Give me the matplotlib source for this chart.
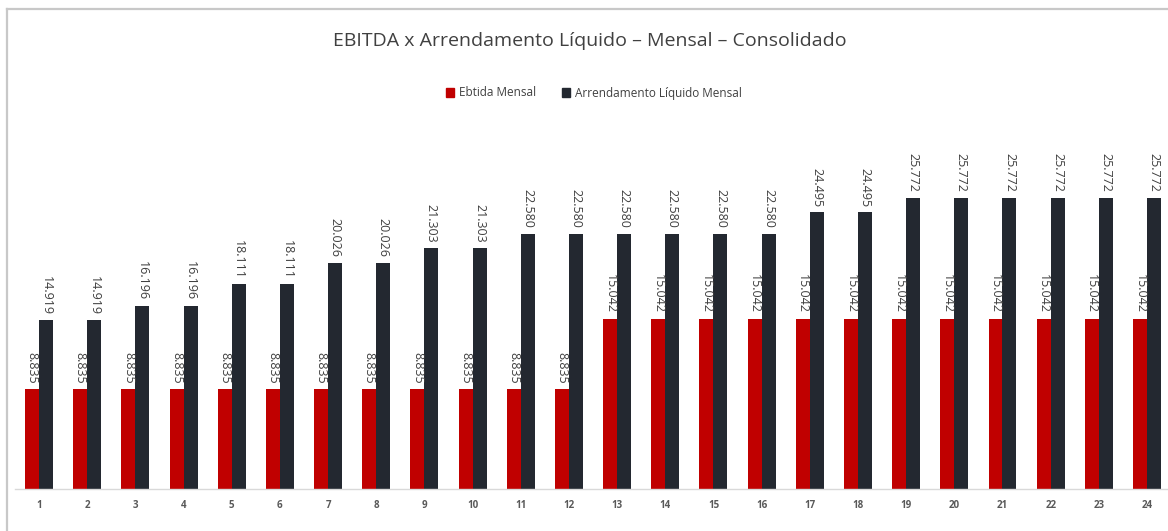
import matplotlib.pyplot as plt
from matplotlib.lines import Line2D
from matplotlib.patches import Patch

# dados do grafico
meses = [str(i) for i in range(1, 25)]
ebitda_mensal = [8835, 8835, 8835, 8835, 8835, 8835, 8835, 8835, 8835, 8835, 8835, 8835,
                 15042, 15042, 15042, 15042, 15042, 15042, 15042, 15042, 15042, 15042, 15042, 15042]
arrendamento_liquido = [14919, 14919, 16196, 16196, 18111, 18111, 20026, 20026, 21303, 21303, 22580, 22580,
                        22580, 22580, 22580, 22580, 24495, 24495, 25772, 25772, 25772, 25772, 25772, 25772]

plt.rcParams['font.family'] = ['Open Sans', 'DejaVu Sans']

W, H = 1168, 531
fig = plt.figure(figsize=(W/100, H/100), dpi=100)

# borda do grafico (so esquerda e topo aparecem)
fig.add_artist(Line2D([7/W, 7/W], [0, 1-9/H], color='#C8C8C8', lw=1.6, transform=fig.transFigure))
fig.add_artist(Line2D([7/W, 1], [1-9/H, 1-9/H], color='#C8C8C8', lw=1.6, transform=fig.transFigure))

ax = fig.add_axes([15/W, 1-489/H, (W-15)/W, (489-150)/H])

x = list(range(1, 25))
w = 0.29
red = '#C00000'
dark = '#232830'
xr = [i - w/2 for i in x]
xb = [i + w/2 for i in x]
ax.bar(xr, ebitda_mensal, width=w, color=red)
ax.bar(xb, arrendamento_liquido, width=w, color=dark)

def fmt(v):
    return f"{v:,}".replace(",", ".")

for xi, v in zip(xr, ebitda_mensal):
    ax.annotate(fmt(v), (xi, v), xytext=(0, 4), textcoords='offset points',
                rotation=270, ha='center', va='bottom', fontsize=9, color='#404040')
for xi, v in zip(xb, arrendamento_liquido):
    ax.annotate(fmt(v), (xi, v), xytext=(0, 4), textcoords='offset points',
                rotation=270, ha='center', va='bottom', fontsize=9, color='#404040')

ax.set_xlim(0.5, 0.5 + (W-15)/48.17)
ax.set_ylim(0, 30000)
ax.set_xticks(x)
ax.set_xticklabels(meses, fontsize=7, fontweight='bold', color='#595959')
ax.set_yticks([])
ax.tick_params(axis='x', length=0, pad=8)
for s in ['top', 'right', 'left']:
    ax.spines[s].set_visible(False)
ax.spines['bottom'].set_color('#D9D9D9')
ax.spines['bottom'].set_linewidth(1)

fig.text(590/W, 1-41/H, "EBITDA x Arrendamento Líquido – Mensal – Consolidado",
         ha='center', va='center', fontsize=14, color='#404040')

handles = [Patch(color=red), Patch(color=dark)]
fig.legend(handles, ['Ebtida Mensal', 'Arrendamento Líquido Mensal'], loc='center',
           bbox_to_anchor=(594/W, 1-93/H), ncol=2, frameon=False, fontsize=8.5,
           handlelength=0.7, handleheight=0.7, handletextpad=0.4, columnspacing=2.2,
           labelcolor='#404040')

fig.savefig('out.png', dpi=100)
